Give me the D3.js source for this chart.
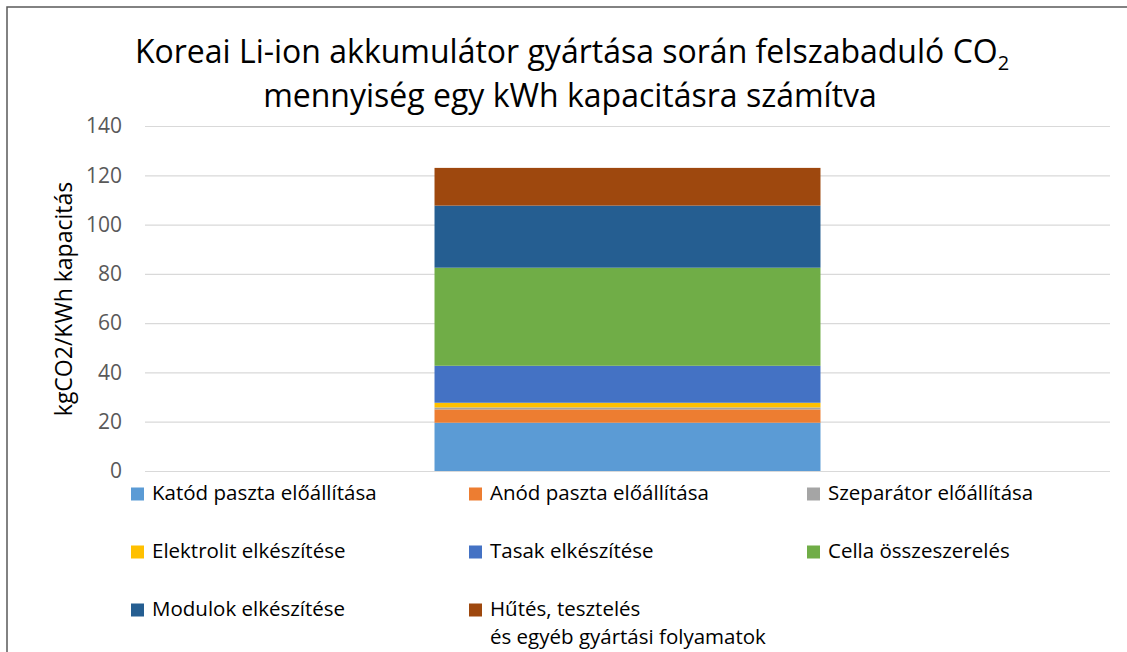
<!DOCTYPE html>
<html>
<head>
<meta charset="utf-8">
<script src="https://cdn.jsdelivr.net/npm/d3@7"></script>
<style>
    body { margin: 0; background: #fff; }
    svg text { font-family: "Open Sans", sans-serif; }
</style>
</head>
<body>
<div id="chart"></div>
<script>
var svgWidth = 1127;
var svgHeight = 652;

// Data
var categories = ["Korea"];
var seriesNames = [
    "Katód paszta előállítása",
    "Anód paszta előállítása",
    "Szeparátor előállítása",
    "Elektrolit elkészítése",
    "Tasak elkészítése",
    "Cella összeszerelés",
    "Modulok elkészítése",
    "Hűtés, tesztelés és egyéb gyártási folyamatok"
];
var seriesValues = [19.6, 5.4, 0.8, 1.9, 15.0, 39.8, 25.2, 15.3];
var seriesColors = ["#5B9BD5", "#ED7D31", "#A5A5A5", "#FFC000", "#4472C4", "#70AD47", "#255E91", "#9E480E"];
var yTicks = [0, 20, 40, 60, 80, 100, 120, 140];

var margin = { top: 126, right: 17, bottom: 181, left: 145 };
var width = svgWidth - margin.left - margin.right;
var height = svgHeight - margin.top - margin.bottom;

var svg = d3.select("#chart")
    .append("svg")
    .attr("width", svgWidth)
    .attr("height", svgHeight);

// outer chart border (cut by the picture at right and bottom)
svg.append("rect")
    .attr("x", 7)
    .attr("y", 7)
    .attr("width", svgWidth + 20)
    .attr("height", svgHeight + 20)
    .attr("fill", "none")
    .attr("stroke", "#595959")
    .attr("stroke-width", 1.5);

var chartGroup = svg.append("g")
    .attr("transform", `translate(${margin.left}, ${margin.top})`);

// build table for the stack
var row = { cat: categories[0] };
seriesNames.forEach(function (name, i) { row[name] = seriesValues[i]; });
var table = [row];

var stacked = d3.stack().keys(seriesNames)(table);

var xScale = d3.scaleBand()
    .domain(categories)
    .range([0, width])
    .padding(0.4286);

var yScale = d3.scaleLinear()
    .domain([0, 140])
    .range([height, 0]);

// gridlines
var leftAxis = d3.axisLeft(yScale)
    .tickValues(yTicks)
    .tickSize(-width)
    .tickPadding(23);

var yAxis = chartGroup.append("g").call(leftAxis);
yAxis.select(".domain").remove();
yAxis.selectAll(".tick line")
    .attr("stroke", "#d9d9d9")
    .attr("stroke-width", 1.2);
yAxis.selectAll(".tick text")
    .attr("fill", "#595959")
    .style("font-size", "21px");

// stacked bar
chartGroup.selectAll(".layer")
    .data(stacked)
    .enter()
    .append("g")
    .attr("class", "layer")
    .attr("fill", (d, i) => seriesColors[i])
    .selectAll("rect")
    .data(d => d)
    .enter()
    .append("rect")
    .attr("x", d => xScale(d.data.cat))
    .attr("width", xScale.bandwidth())
    .attr("y", d => yScale(d[1]))
    .attr("height", d => yScale(d[0]) - yScale(d[1]));

// title, first line with subscript 2
var title1 = svg.append("text")
    .attr("x", 572)
    .attr("y", 63)
    .attr("text-anchor", "middle")
    .attr("fill", "#000")
    .style("font-size", "32px");
title1.append("tspan").text("Koreai Li-ion akkumulátor gyártása során felszabaduló CO");
title1.append("tspan")
    .attr("dy", 7)
    .style("font-size", "20px")
    .text("2");

svg.append("text")
    .attr("x", 570)
    .attr("y", 107)
    .attr("text-anchor", "middle")
    .attr("fill", "#000")
    .style("font-size", "32px")
    .text("mennyiség egy kWh kapacitásra számítva");

// y axis title
svg.append("text")
    .attr("transform", "rotate(-90)")
    .attr("x", -299)
    .attr("y", 72)
    .attr("text-anchor", "middle")
    .attr("fill", "#000")
    .style("font-size", "23px")
    .text("kgCO2/KWh kapacitás");

// legend
var legendCols = [131, 469, 807];
var legendRows = [500, 558, 616];
var legend = svg.selectAll(".legendItem")
    .data(seriesNames)
    .enter()
    .append("g")
    .attr("class", "legendItem")
    .attr("transform", (d, i) => `translate(${legendCols[i % 3]}, ${legendRows[Math.floor(i / 3)]})`);

legend.append("rect")
    .attr("x", 0)
    .attr("y", -12.5)
    .attr("width", 13)
    .attr("height", 13)
    .attr("fill", (d, i) => seriesColors[i]);

legend.append("text")
    .attr("x", 21)
    .attr("y", 0)
    .attr("fill", "#000")
    .style("font-size", "20.5px")
    .each(function (d) {
        var parts = d.indexOf("tesztelés") >= 0 ? ["Hűtés, tesztelés", "és egyéb gyártási folyamatok"] : [d];
        var t = d3.select(this);
        parts.forEach(function (p, j) {
            t.append("tspan")
                .attr("x", 21)
                .attr("dy", j === 0 ? 0 : 28)
                .text(p);
        });
    });
</script>
</body>
</html>
